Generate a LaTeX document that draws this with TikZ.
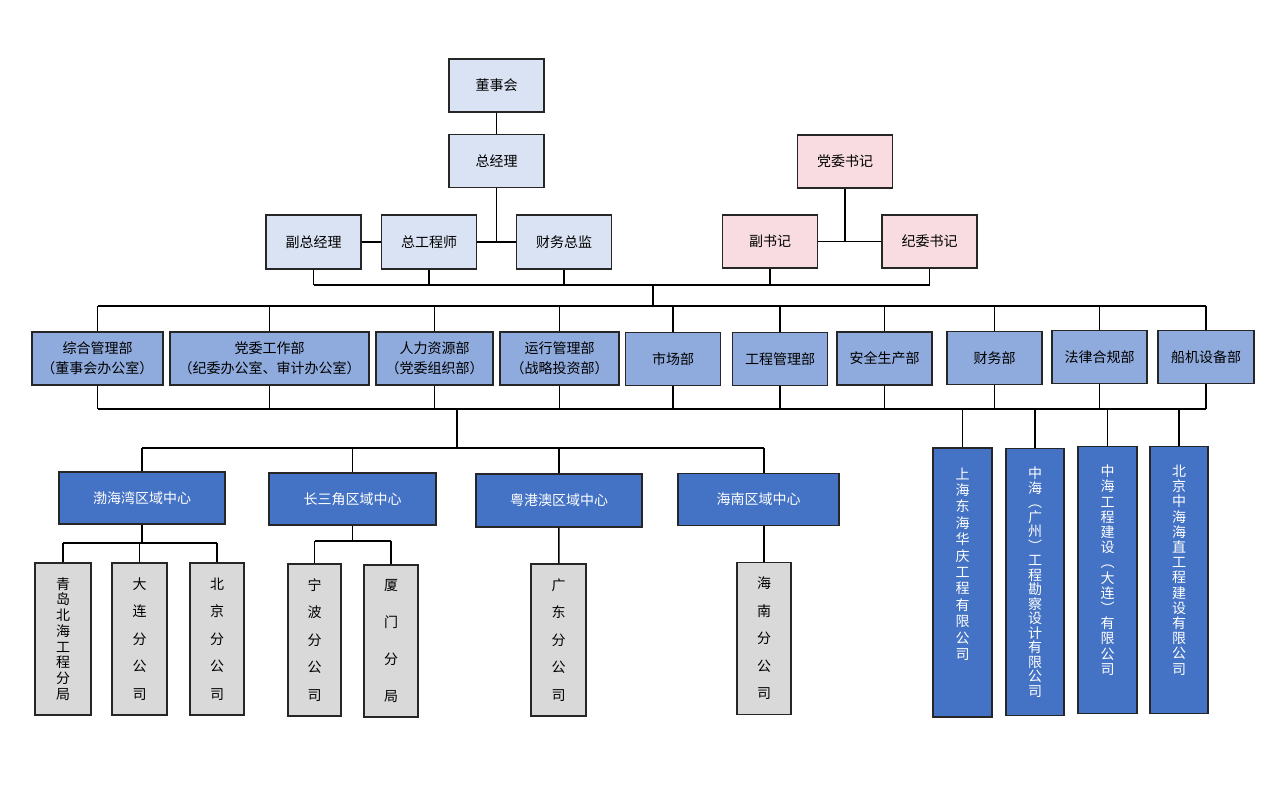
\documentclass[tikz,border=0pt]{standalone}
\usepackage{fontspec}
\setmainfont{Noto Sans CJK SC}
\usetikzlibrary{positioning}
\definecolor{topfill}{HTML}{DAE3F3}
\definecolor{partyfill}{HTML}{F8DCE1}
\definecolor{deptfill}{HTML}{8FAADC}
\definecolor{unitfill}{HTML}{4472C4}
\definecolor{branchfill}{HTML}{D9D9D9}
\definecolor{edgegray}{HTML}{262626}
\makeatletter
% one character per line, from the top
\newcommand{\stacktext}[1]{\parbox[t][230pt][t]{1em}{\centering\@tfor\ch:=#1\do{\ch\par}}}
% one character per line, spread over the box
\newcommand{\spreadtext}[1]{\parbox[t][122pt][s]{1em}{\centering\let\gap\relax\@tfor\ch:=#1\do{\gap\ch\par\let\gap\vfill}}}
\makeatother

\begin{document}
\begin{tikzpicture}[x=1pt,y=-1pt,line width=1.5pt,
  box/.style={draw=edgegray,line width=1.4pt,font=\fontsize{14}{20}\selectfont,align=center,inner sep=2pt},
  top node/.style={box,fill=topfill,minimum width=95pt,minimum height=53pt},
  party node/.style={box,fill=partyfill,minimum width=95pt,minimum height=53pt},
  dept node/.style={box,fill=deptfill,minimum width=95pt,minimum height=53pt},
  region node/.style={box,fill=unitfill,text=white,minimum width=166pt,minimum height=52pt},
  branch node/.style={box,fill=branchfill,inner sep=0pt,minimum width=55pt,minimum height=152pt,font=\fontsize{14}{14}\selectfont},
  firm node/.style={box,fill=unitfill,text=white,inner sep=0pt,minimum width=59pt,minimum height=267pt,font=\fontsize{14}{15.2}\selectfont}]
  \path[fill=white] (0,0) rectangle (1280,800);

  % management
  \node[top node] (dsh) at (496.5,85.5) {董事会};
  \node[top node] (zjl) at (496.5,161) {总经理};
  \node[top node,minimum height=54pt] (fzjl) at (313.5,242) {副总经理};
  \node[top node,minimum height=54pt] (zgcs) at (429,242) {总工程师};
  \node[top node,minimum height=54pt] (cwzj) at (564,242) {财务总监};

  % party
  \node[party node] (dwsj) at (845,161.5) {党委书记};
  \node[party node] (fsj) at (770,241.5) {副书记};
  \node[party node] (jwsj) at (929.5,241.5) {纪委书记};

  % departments
  \node[dept node,minimum width=131pt] (d1) at (97.5,358.5) {综合管理部\\（董事会办公室）};
  \node[dept node,minimum width=199pt] (d2) at (269.5,358.5) {党委工作部\\（纪委办公室、审计办公室）};
  \node[dept node,minimum width=117pt] (d3) at (434.5,358.5) {人力资源部\\（党委组织部）};
  \node[dept node,minimum width=119pt] (d4) at (559.5,358.5) {运行管理部\\（战略投资部）};
  \node[dept node] (d5) at (673,359) {市场部};
  \node[dept node] (d6) at (780,359) {工程管理部};
  \node[dept node] (d7) at (884.5,358.5) {安全生产部};
  \node[dept node] (d8) at (994.5,358) {财务部};
  \node[dept node] (d9) at (1099.5,357) {法律合规部};
  \node[dept node,minimum width=96pt] (d10) at (1206,357) {船机设备部};

  % regional centres
  \node[region node] (r1) at (142,498) {渤海湾区域中心};
  \node[region node,minimum width=167pt] (r2) at (352.5,499) {长三角区域中心};
  \node[region node,minimum height=53pt] (r3) at (559,500.5) {粤港澳区域中心};
  \node[region node,minimum width=161pt] (r4) at (758.5,499.5) {海南区域中心};

  % branches
  \node[branch node,minimum width=56pt] (b1) at (63,639) {\spreadtext{青岛北海工程分局}};
  \node[branch node] (b2) at (139.5,639) {\spreadtext{大连分公司}};
  \node[branch node,minimum width=54pt] (b3) at (217,639) {\spreadtext{北京分公司}};
  \node[branch node,minimum width=53pt] (b4) at (314.5,640) {\spreadtext{宁波分公司}};
  \node[branch node,minimum width=54pt] (b5) at (391,641) {\spreadtext{厦门分局}};
  \node[branch node] (b6) at (558.5,640) {\spreadtext{广东分公司}};
  \node[branch node,minimum width=54pt] (b7) at (764,638.5) {\spreadtext{海南分公司}};

  % subsidiaries
  \node[firm node,minimum height=269pt,font=\fontsize{14}{16.4}\selectfont] (c1) at (962.5,582.5) {\stacktext{上海东海华庆工程有限公司}};
  \node[firm node,minimum width=58pt,font=\fontsize{14}{14.5}\selectfont] (c2) at (1035,582) {\stacktext{中海︵广州︶工程勘察设计有限公司}};
  \node[firm node] (c3) at (1107.5,580) {\stacktext{中海工程建设︵大连︶有限公司}};
  \node[firm node,minimum width=58pt] (c4) at (1179,580) {\stacktext{北京中海海直工程建设有限公司}};

  % connectors
  \draw (dsh) -- (zjl);
  \draw (fzjl) -- (zgcs) -- (cwzj);
  \draw (zjl) -- (zjl |- cwzj);
  \draw (fsj) -- (jwsj);
  \draw (dwsj) -- (dwsj |- jwsj);
  \coordinate (topbus) at (653,285);
  \draw (fzjl |- topbus) -- (jwsj |- topbus);
  \foreach \n in {fzjl,zgcs,cwzj,fsj,jwsj}
    \draw (\n) -- (\n |- topbus);
  \coordinate (deptbus) at (653,306);
  \draw (topbus) -- (deptbus);
  \draw (d1 |- deptbus) -- (d10 |- deptbus);
  \coordinate (lowbus) at (457,409);
  \draw (d1 |- lowbus) -- (d10 |- lowbus);
  \foreach \i in {1,...,10} {
    \draw (d\i) -- (d\i |- deptbus);
    \draw (d\i) -- (d\i |- lowbus);
  }
  \coordinate (regbus) at (457,448);
  \draw (lowbus) -- (regbus);
  \draw (r1 |- regbus) -- (b7 |- regbus);
  \foreach \i in {1,2,3}
    \draw (r\i) -- (r\i |- regbus);
  \draw (b7 |- r4.north) -- (b7 |- regbus);
  \foreach \i in {1,...,4}
    \draw (c\i) -- (c\i |- lowbus);

  \coordinate (bohai) at (142,543);
  \draw (r1) -- (bohai);
  \draw (b1 |- bohai) -- (b3 |- bohai);
  \foreach \i in {1,2,3}
    \draw (b\i) -- (b\i |- bohai);
  \coordinate (csj) at (352.5,541);
  \draw (r2) -- (csj);
  \draw (b4 |- csj) -- (b5 |- csj);
  \foreach \i in {4,5}
    \draw (b\i) -- (b\i |- csj);
  \draw (r3) -- (b6);
  \draw (b7) -- (b7 |- r4.south);
\end{tikzpicture}
\end{document}
